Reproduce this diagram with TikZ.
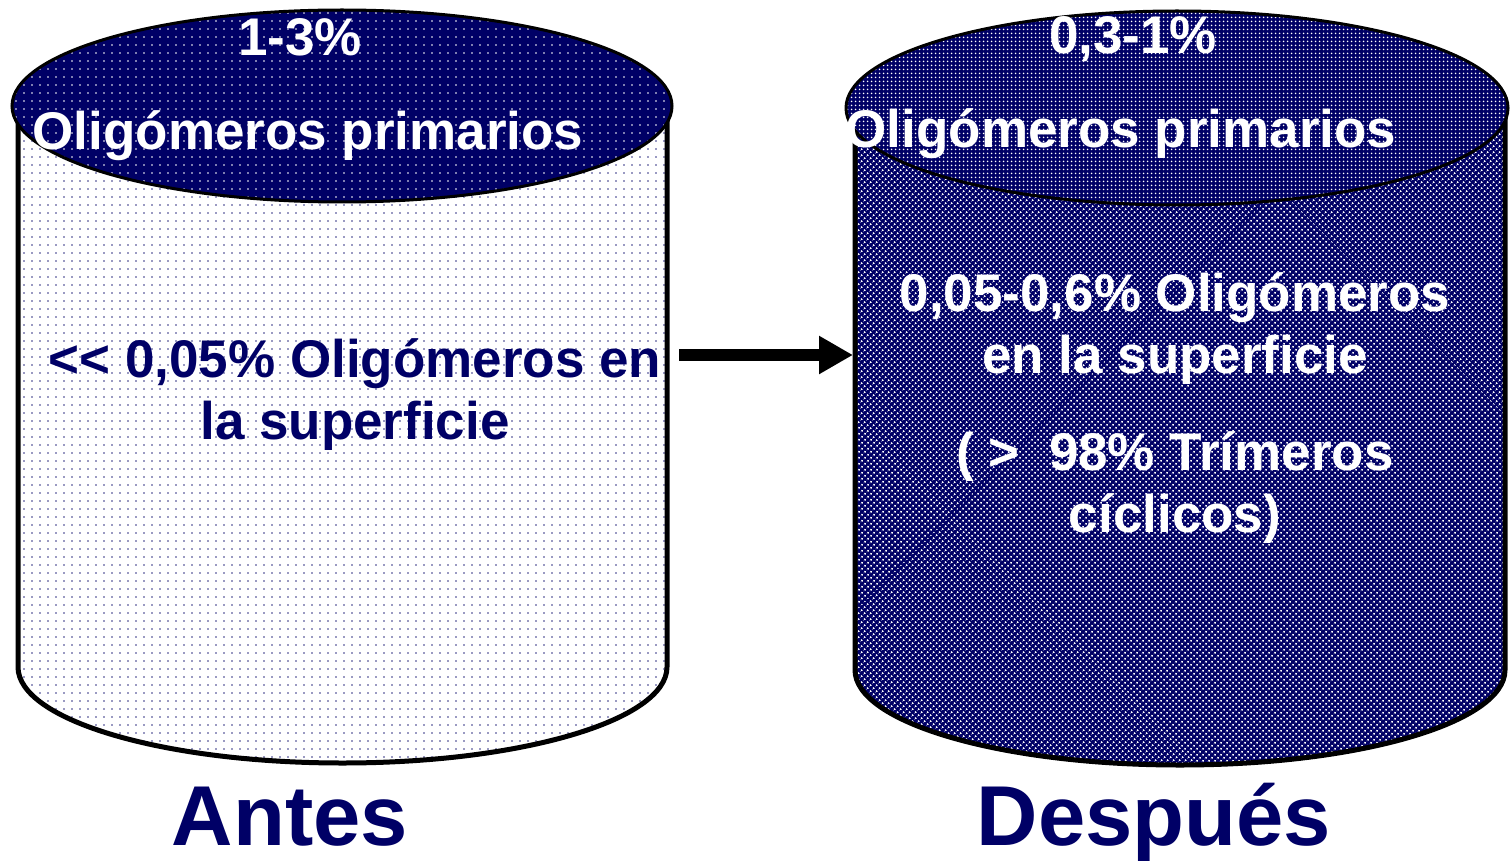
\documentclass[tikz,border=0pt]{standalone}
\usepackage{fontspec}
\setmainfont{Liberation Sans}
\usetikzlibrary{arrows.meta,patterns.meta}
\definecolor{navy}{HTML}{000066}
\tikzset{
  bodyline/.style={line width=5pt, draw=black},
  lidline/.style={line width=3pt, draw=black},
  lbl/.style={font=\bfseries\fontsize{53}{62}\selectfont, anchor=base, inner sep=0pt},
  biglbl/.style={font=\bfseries\fontsize{85}{90}\selectfont, anchor=base, inner sep=0pt, text=navy},
  whitetxt/.style={lbl, text=white},
  navytxt/.style={lbl, text=navy},
}
\begin{document}
\begin{tikzpicture}[x=1pt,y=-1pt]
\useasboundingbox (0,0) rectangle (1512,861);
% left cylinder body
\path[bodyline, preaction={fill=white},
      preaction={pattern={Dots[distance=8pt,radius=0.8pt]}, pattern color=navy!80}]
  (18,108) -- (18,667) arc[start angle=180,end angle=0,x radius=324.5,y radius=96] -- (667,108);
% left lid
\path[lidline, preaction={fill=navy},
      preaction={pattern={Dots[distance=8pt,radius=0.9pt]}, pattern color=white}]
  (342,106) ellipse [x radius=330, y radius=96];
% right cylinder body
\path[bodyline, preaction={fill=navy},
      preaction={pattern={Dots[distance=4pt,radius=1.2pt,angle=45]}, pattern color=white}]
  (855,110) -- (855,670) arc[start angle=180,end angle=0,x radius=325,y radius=95] -- (1505,110);
% right lid
\path[lidline, preaction={fill=navy},
      preaction={pattern={Dots[distance=4pt,radius=1.1pt]}, pattern color=white}]
  (1177,108) ellipse [x radius=331, y radius=97];
% arrow
\coordinate (from) at (679,355);
\coordinate (to) at (853,355);
\draw[line width=12pt, -{Triangle[length=34pt,width=36pt]}] (from) -- (to);
% texts left
\node[whitetxt] (lpct) at (300,56) {1-3\%};
\node[whitetxt] (lprim) at (308,150) {Oligómeros primarios};
\node[navytxt] (lsup1) at (355,377) {<{}< 0,05\% Oligómeros en};
\node[navytxt] (lsup2) at (355,439) {la superficie};
% texts right
\node[whitetxt] (rpct) at (1133,54) {0,3-1\%};
\node[whitetxt] (rprim) at (1121,148) {Oligómeros primarios};
\node[whitetxt] (rsup1) at (1175,311) {0,05-0,6\% Oligómeros};
\node[whitetxt] (rsup2) at (1175,373) {en la superficie};
\node[whitetxt] (rtri1) at (1175,470) {( >\ \ 98\% Trímeros};
\node[whitetxt] (rtri2) at (1175,532) {cíclicos)};
% bottom labels
\node[biglbl] (antes) at (290,845) {Antes};
\node[biglbl] (despues) at (1154,845) {Después};
\end{tikzpicture}
\end{document}
